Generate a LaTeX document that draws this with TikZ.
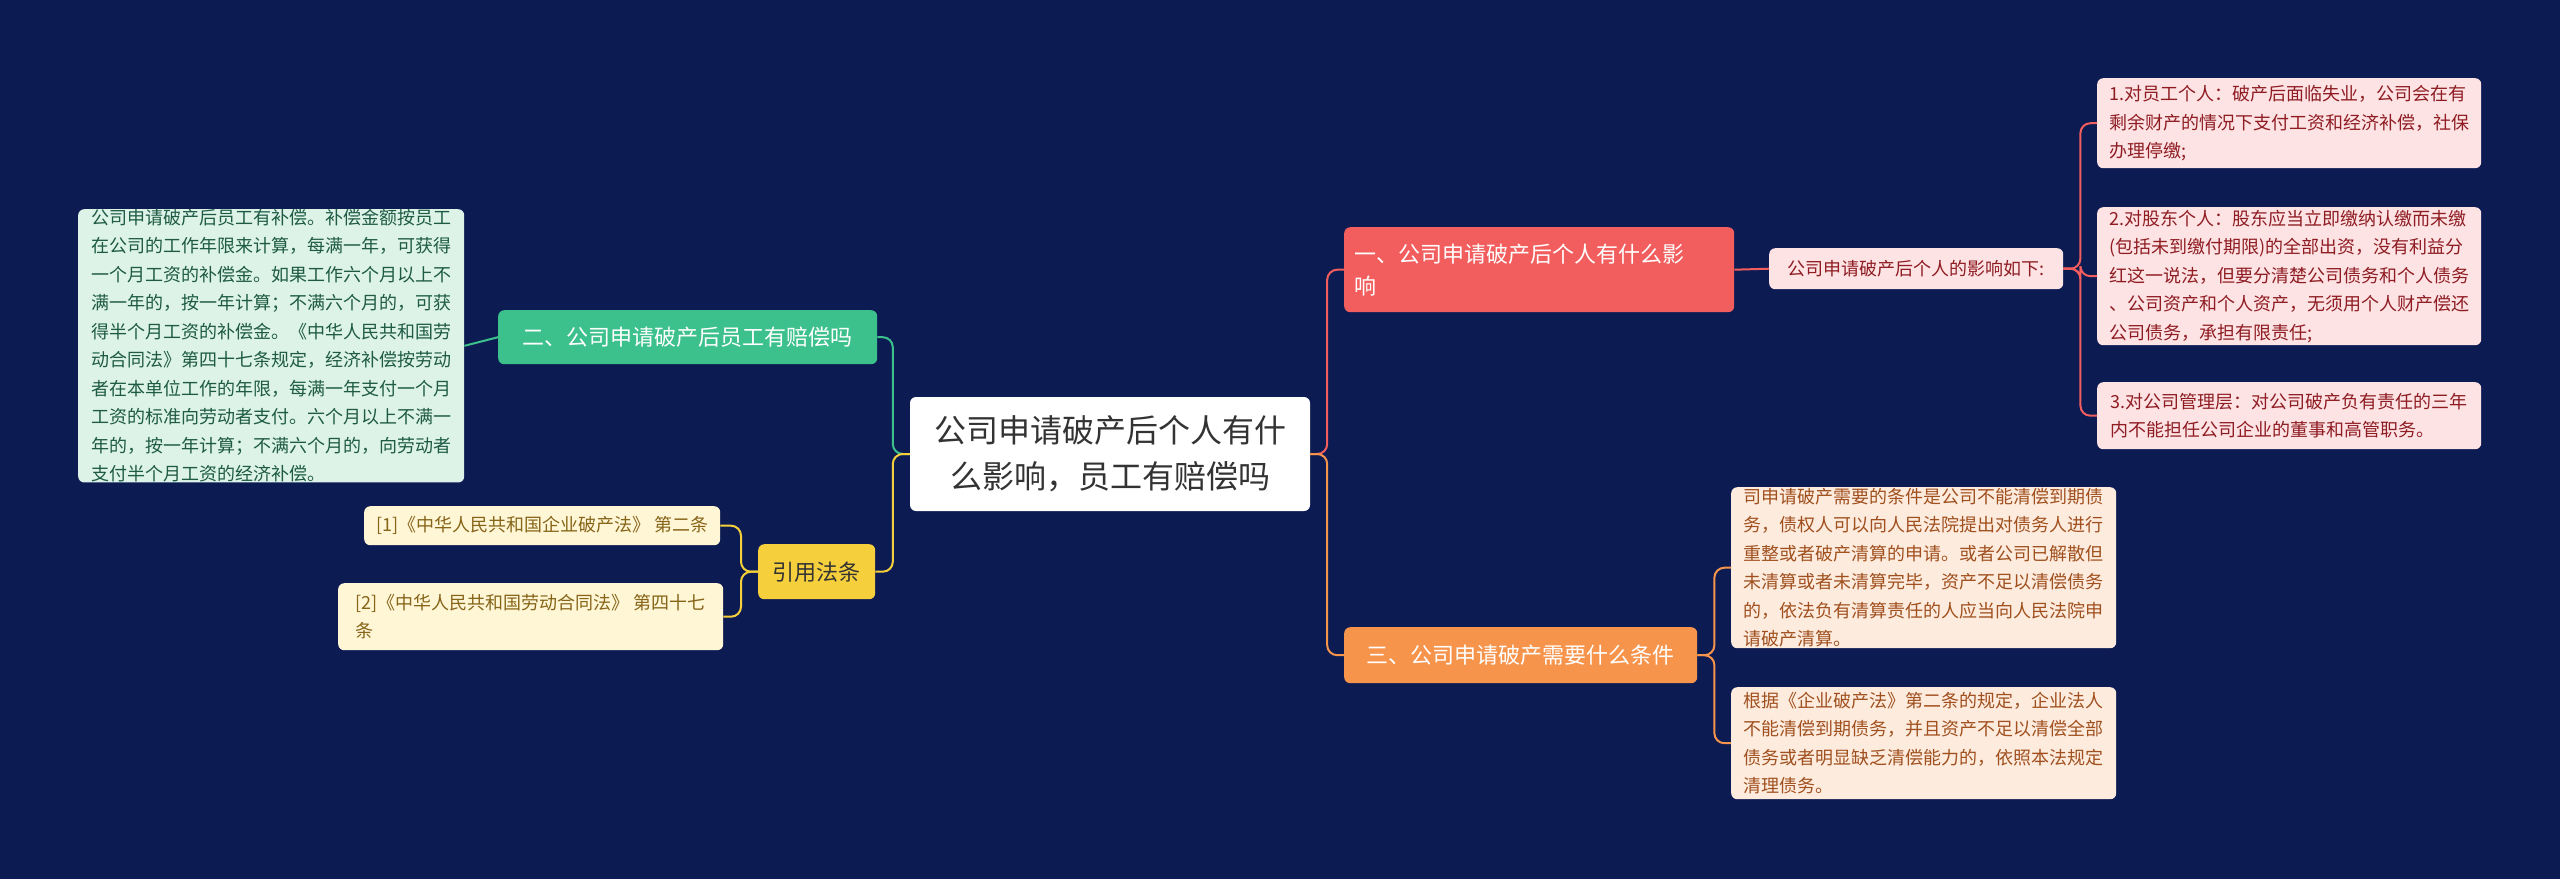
\documentclass[tikz,border=0pt]{standalone}
\usepackage{fontspec}
\setmainfont{Noto Sans CJK SC}
\begin{document}
\begin{tikzpicture}[x=1pt,y=-1pt,
 box/.style={rounded corners=6pt,inner sep=0pt,anchor=north west,align=left,font=\fontsize{18}{28.5}\selectfont},
 con/.style={line width=2pt,rounded corners=10pt}]
\definecolor{bg}{HTML}{0C1B52}
\definecolor{cred}{HTML}{F25D5D}\definecolor{lred}{HTML}{FDE3E4}\definecolor{tred}{HTML}{8E1C22}
\definecolor{cora}{HTML}{F7944C}\definecolor{lora}{HTML}{FDEBDE}\definecolor{tora}{HTML}{A0501E}
\definecolor{cgrn}{HTML}{3CC08C}\definecolor{lgrn}{HTML}{DDF3E8}\definecolor{tgrn}{HTML}{1E5A44}
\definecolor{cyel}{HTML}{F6D03C}\definecolor{lyel}{HTML}{FFF6D6}\definecolor{tyel}{HTML}{866418}
\fill[bg] (0,0) rectangle (2560,879);
\useasboundingbox (0,0) rectangle (2560,879);
% nodes
\node[fill=white,rounded corners=6pt,minimum width=400pt,minimum height=114pt,align=center,text=black!80,font=\fontsize{32}{46}\selectfont] (c) at (1110,454) {公司申请破产后个人有什\\么影响，员工有赔偿吗};
\node[box,fill=cred,text=white,minimum width=389pt,minimum height=85pt,font=\fontsize{22}{32}\selectfont,text width=370pt,inner xsep=10pt] (r1) at (1344,227) {一、公司申请破产后个人有什么影\\响};
\node[box,fill=lred,text=tred,minimum width=294pt,minimum height=41pt,inner xsep=8pt] (r1s) at (1769,248) {公司申请破产后个人的影响如下:};
\node[box,fill=lred,text=tred,minimum width=384pt,minimum height=90pt,inner xsep=9pt] (a1) at (2097,78) {1.对员工个人：破产后面临失业，公司会在有\\剩余财产的情况下支付工资和经济补偿，社保\\办理停缴;};
\node[box,fill=lred,text=tred,minimum width=384pt,minimum height=138pt,inner xsep=9pt] (a2) at (2097,207) {2.对股东个人：股东应当立即缴纳认缴而未缴\\(包括未到缴付期限)的全部出资，没有利益分\\红这一说法，但要分清楚公司债务和个人债务\\、公司资产和个人资产，无须用个人财产偿还\\公司债务，承担有限责任;};
\node[box,fill=lred,text=tred,minimum width=384pt,minimum height=67pt,inner xsep=9pt] (a3) at (2097,382) {3.对公司管理层：对公司破产负有责任的三年\\内不能担任公司企业的董事和高管职务。};
\node[box,fill=cora,text=white,minimum width=353pt,minimum height=56pt,font=\fontsize{22}{32}\selectfont,inner xsep=10pt] (r3) at (1344,627) {三、公司申请破产需要什么条件};
\node[box,fill=lora,text=tora,minimum width=385pt,minimum height=161pt,inner xsep=10pt] (b1) at (1731,487) {司申请破产需要的条件是公司不能清偿到期债\\务，债权人可以向人民法院提出对债务人进行\\重整或者破产清算的申请。或者公司已解散但\\未清算或者未清算完毕，资产不足以清偿债务\\的，依法负有清算责任的人应当向人民法院申\\请破产清算。};
\node[box,fill=lora,text=tora,minimum width=385pt,minimum height=112pt,inner xsep=10pt] (b2) at (1731,687) {根据《企业破产法》第二条的规定，企业法人\\不能清偿到期债务，并且资产不足以清偿全部\\债务或者明显缺乏清偿能力的，依照本法规定\\清理债务。};
\node[box,fill=cgrn,text=white,minimum width=379pt,minimum height=54pt,font=\fontsize{22}{32}\selectfont,inner xsep=12pt] (l2) at (498,310) {二、公司申请破产后员工有赔偿吗};
\node[box,fill=lgrn,text=tgrn,minimum width=386pt,minimum height=255pt,inner xsep=9pt] (g1) at (78,209) {公司申请破产后员工有补偿。补偿金额按员工\\在公司的工作年限来计算，每满一年，可获得\\一个月工资的补偿金。如果工作六个月以上不\\满一年的，按一年计算；不满六个月的，可获\\得半个月工资的补偿金。《中华人民共和国劳\\动合同法》第四十七条规定，经济补偿按劳动\\者在本单位工作的年限，每满一年支付一个月\\工资的标准向劳动者支付。六个月以上不满一\\年的，按一年计算；不满六个月的，向劳动者\\支付半个月工资的经济补偿。};
\node[box,fill=cyel,text=black!80,minimum width=117pt,minimum height=55pt,font=\fontsize{22}{32}\selectfont,align=center] (l4) at (758,544) {引用法条};
\node[box,fill=lyel,text=tyel,minimum width=356pt,minimum height=39pt,inner xsep=9pt] (y1) at (364,506) {[1]《中华人民共和国企业破产法》 第二条};
\node[box,fill=lyel,text=tyel,minimum width=385pt,minimum height=67pt,inner xsep=9pt] (y2) at (338,583) {[2]《中华人民共和国劳动合同法》 第四十七\\条};
% connectors
\draw[con,cred] (c.east) -- ++(17,0) |- (r1.west);
\draw[con,cora] (c.east) -- ++(17,0) |- (r3.west);
\draw[con,cgrn] (c.west) -- ++(-17,0) |- (l2.east);
\draw[con,cyel] (c.west) -- ++(-17,0) |- (l4.east);
\draw[con,cred] (r1.east) -- (r1s.west);
\foreach \t in {a1,a2,a3} \draw[con,cred] (r1s.east) -- ++(17,0) |- (\t.west);
\foreach \t in {b1,b2} \draw[con,cora] (r3.east) -- ++(17,0) |- (\t.west);
\draw[con,cgrn] (l2.west) -- (g1.east);
\foreach \t in {y1,y2} \draw[con,cyel] (l4.west) -- ++(-17,0) |- (\t.east);
\end{tikzpicture}
\end{document}
